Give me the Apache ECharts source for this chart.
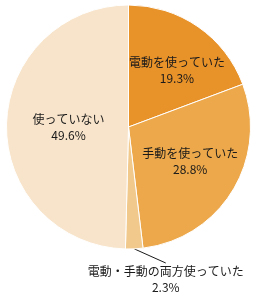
<!DOCTYPE html>
<html lang="ja">
<head>
<meta charset="UTF-8">
<title>pie</title>
<script src="https://cdn.jsdelivr.net/npm/echarts@6/dist/echarts.min.js"></script>
<style>
  html, body { margin: 0; padding: 0; background: #fff; }
  #main { width: 257px; height: 300px; }
</style>
</head>
<body>
<div id="main"></div>
<script>
var names = ['電動を使っていた', '手動を使っていた', '電動・手動の両方使っていた', '使っていない'];
var values = [19.3, 28.8, 2.3, 49.6];
var colors = ['#e8922a', '#eca84a', '#f2c98c', '#f8e4ca'];

// 内側ラベルの微調整 (px)
var shifts = [[12, -4], [7, 1], [0, 0], [4, 1]];

var myChart = echarts.init(document.getElementById('main'));

var data = [];
for (var i = 0; i < names.length; i++) {
    var item = {
        name: names[i],
        value: values[i],
        itemStyle: { color: colors[i] }
    };
    if (i === 2) {
        item.label = { position: 'outside', overflow: 'none', width: 200 };
        item.labelLine = { show: true };
    }
    data.push(item);
}

var option = {
    backgroundColor: '#fff',
    animation: false,
    series: [{
        type: 'pie',
        center: ['50%', 127],
        radius: 122,
        startAngle: 90,
        clockwise: true,
        data: data,
        itemStyle: {
            borderColor: '#fff',
            borderWidth: 1
        },
        label: {
            position: 'inside',
            formatter: '{b}\n{c}%',
            color: '#1a1a1a',
            fontSize: 12,
            lineHeight: 16,
            fontFamily: 'Noto Sans CJK JP',
            align: 'center'
        },
        labelLine: {
            show: false,
            length: 8,
            length2: 0,
            lineStyle: { color: '#1a1a1a', width: 1 }
        },
        labelLayout: function (params) {
            var r = params.labelRect;
            if (params.dataIndex === 2) {
                return { x: '64.5%', y: 263, align: 'center', verticalAlign: 'top' };
            }
            var s = shifts[params.dataIndex];
            return {
                x: r.x + r.width / 2 + s[0],
                y: r.y + r.height / 2 + s[1],
                align: 'center',
                verticalAlign: 'middle'
            };
        }
    }]
};

myChart.setOption(option);
</script>
</body>
</html>
